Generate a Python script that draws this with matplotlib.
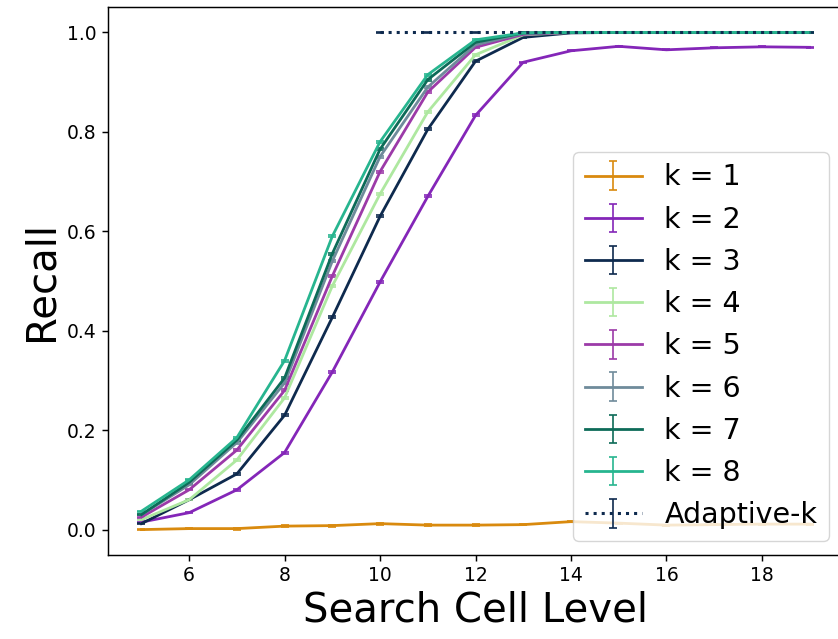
import matplotlib
matplotlib.use("Agg")
import matplotlib.pyplot as plt

levels = [5, 6, 7, 8, 9, 10, 11, 12, 13, 14, 15, 16, 17, 18, 19]

recall_k1 = [0.000, 0.002, 0.002, 0.007, 0.008, 0.012, 0.009, 0.009, 0.010, 0.016, 0.013, 0.009, 0.010, 0.011, 0.011]
recall_k2 = [0.015, 0.034, 0.080, 0.155, 0.317, 0.498, 0.670, 0.833, 0.940, 0.963, 0.972, 0.965, 0.969, 0.971, 0.970]
recall_k3 = [0.012, 0.060, 0.112, 0.230, 0.427, 0.630, 0.805, 0.942, 0.990, 0.999, 1.000, 1.000, 1.000, 1.000, 1.000]
recall_k4 = [0.020, 0.060, 0.140, 0.265, 0.490, 0.675, 0.840, 0.955, 0.995, 1.000, 1.000, 1.000, 1.000, 1.000, 1.000]
recall_k5 = [0.025, 0.080, 0.160, 0.280, 0.510, 0.720, 0.880, 0.970, 0.996, 1.000, 1.000, 1.000, 1.000, 1.000, 1.000]
recall_k6 = [0.030, 0.090, 0.175, 0.295, 0.540, 0.750, 0.890, 0.975, 0.998, 1.000, 1.000, 1.000, 1.000, 1.000, 1.000]
recall_k7 = [0.030, 0.095, 0.180, 0.305, 0.555, 0.765, 0.905, 0.980, 0.999, 1.000, 1.000, 1.000, 1.000, 1.000, 1.000]
recall_k8 = [0.037, 0.100, 0.185, 0.340, 0.590, 0.780, 0.915, 0.985, 0.999, 1.000, 1.000, 1.000, 1.000, 1.000, 1.000]

adaptive_levels = [10, 11, 12, 13, 14, 15, 16, 17, 18, 19]
recall_adaptive = [1.000, 1.000, 1.000, 1.000, 1.000, 1.000, 1.000, 1.000, 1.000, 1.000]

err_small = [0.001, 0.001, 0.002, 0.002, 0.002, 0.002, 0.002, 0.002, 0.001, 0.001, 0.001, 0.001, 0.001, 0.001, 0.001]
err_adaptive = [0.001, 0.001, 0.001, 0.001, 0.001, 0.001, 0.001, 0.001, 0.001, 0.001]

labels = ["k = 1", "k = 2", "k = 3", "k = 4", "k = 5", "k = 6", "k = 7", "k = 8"]
colors = ["#d98a0e", "#8426b8", "#0e2a4e", "#aee8a0", "#9c3aa8", "#6f8b9b", "#0d6b58", "#27b58f"]
series = [recall_k1, recall_k2, recall_k3, recall_k4, recall_k5, recall_k6, recall_k7, recall_k8]

fig = plt.figure(figsize=(8.38, 6.39), dpi=100)
ax = fig.add_axes([108 / 838, 84 / 639, (843 - 108) / 838, (632 - 84) / 639])

for vals, lab, col in zip(series, labels, colors):
    ax.errorbar(levels, vals, yerr=err_small, label=lab, color=col, lw=2.0, capsize=3.0, elinewidth=1.2, capthick=1.2)

ax.errorbar(adaptive_levels, recall_adaptive, yerr=err_adaptive, label="Adaptive-k", color="#0e2a4e",
            ls=":", lw=2.2, capsize=3.0, elinewidth=1.2, capthick=1.2)

ax.set_xlabel("Search Cell Level", fontsize=29)
ax.set_ylabel("Recall", fontsize=29)
ax.set_xticks([6, 8, 10, 12, 14, 16, 18])
ax.set_yticks([0.0, 0.2, 0.4, 0.6, 0.8, 1.0])
ax.tick_params(labelsize=13.5, length=4.6, width=1.05)
for sp in ax.spines.values():
    sp.set_linewidth(1.05)

ax.legend(loc="lower right", fontsize=20.5, handlelength=2.0)

fig.savefig("out.png", dpi=100)
